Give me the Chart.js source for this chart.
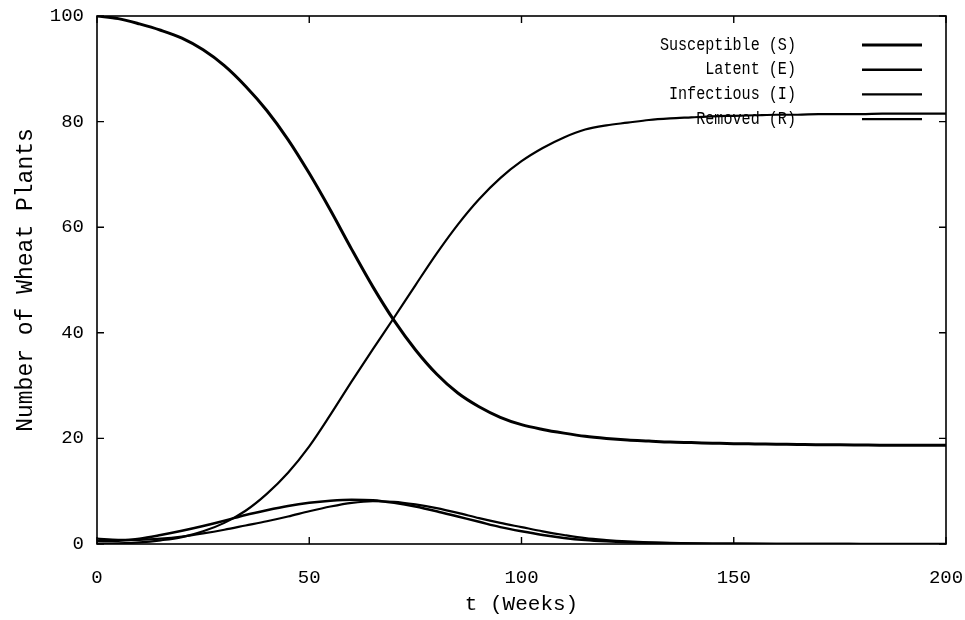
<!DOCTYPE html>
<html>
<head>
<meta charset="utf-8">
<script src="https://cdn.jsdelivr.net/npm/chart.js@4/dist/chart.umd.min.js"></script>
<style>
html,body{margin:0;padding:0;background:#fff;}
#wrap{width:965px;height:620px;}
</style>
</head>
<body>
<div id="wrap"><canvas id="c" width="965" height="620"></canvas></div>
<script>
const weeks = [0,5,10,15,20,25,30,35,40,45,50,55,60,65,70,75,80,85,90,95,100,105,110,115,120,125,130,135,140,145,150,155,160,165,170,175,180,185,190,195,200];
const susceptible = [100,99.5,98.5,97.3,95.8,93.6,90.6,86.7,82.1,76.6,70.2,63.2,55.8,48.7,42.3,36.8,32.2,28.6,26,24,22.6,21.7,21,20.4,20,19.7,19.5,19.3,19.2,19.1,19,18.95,18.9,18.85,18.8,18.8,18.75,18.7,18.7,18.7,18.7];
const latent = [0.5,0.6,1.0,1.7,2.5,3.4,4.4,5.5,6.4,7.2,7.8,8.2,8.4,8.3,7.8,7.1,6.2,5.2,4.2,3.2,2.4,1.7,1.15,0.75,0.5,0.33,0.22,0.14,0.09,0.06,0.04,0.03,0.02,0.01,0.01,0,0,0,0,0,0];
const infectious = [1.0,0.8,0.8,1.0,1.4,2.0,2.7,3.5,4.3,5.2,6.2,7.1,7.8,8.1,8.0,7.5,6.8,5.9,4.9,4.0,3.2,2.4,1.7,1.1,0.75,0.5,0.33,0.22,0.14,0.09,0.06,0.04,0.03,0.02,0.01,0.01,0,0,0,0,0];
const removed = [0,0.1,0.3,0.7,1.3,2.4,4,6.3,9.5,13.5,18.5,24.5,30.8,36.9,42.9,49,55,60.5,65.3,69.3,72.5,75,77,78.5,79.3,79.8,80.3,80.6,80.8,81,81.1,81.2,81.3,81.3,81.4,81.4,81.4,81.5,81.5,81.5,81.5];
const seriesLabels = ['Susceptible (S)','Latent (E)','Infectious (I)','Removed (R)'];
const xTicks = [0,50,100,150,200];
const yTicks = [0,20,40,60,80,100];

const FONT = "'Liberation Mono', 'DejaVu Sans Mono', monospace";
const toPts = arr => arr.map((v,i)=>({x:weeks[i], y:v}));
const widths = [3,2.5,2.2,2.2];
const seriesData = [susceptible, latent, infectious, removed];

const frameAndLegend = {
  id:'frameAndLegend',
  afterDraw(chart){
    const ctx = chart.ctx, a = chart.chartArea;
    const xs = chart.scales.x, ys = chart.scales.y;
    ctx.save();
    ctx.strokeStyle = '#000';
    ctx.lineWidth = 1.6;
    ctx.strokeRect(a.left, a.top, a.right - a.left, a.bottom - a.top);
    ctx.lineWidth = 1.4;
    const tl = 7;
    xTicks.forEach(v=>{
      const px = xs.getPixelForValue(v);
      ctx.beginPath();
      ctx.moveTo(px, a.bottom); ctx.lineTo(px, a.bottom - tl);
      ctx.moveTo(px, a.top); ctx.lineTo(px, a.top + tl);
      ctx.stroke();
    });
    yTicks.forEach(v=>{
      const py = ys.getPixelForValue(v);
      ctx.beginPath();
      ctx.moveTo(a.left, py); ctx.lineTo(a.left + tl, py);
      ctx.moveTo(a.right, py); ctx.lineTo(a.right - tl, py);
      ctx.stroke();
    });
    // legend
    const textRight = 796, lineL = 862, lineR = 922, sx = 0.84;
    chart.data.datasets.forEach((ds,i)=>{
      const y = 45 + i*24.7;
      ctx.save();
      ctx.scale(sx, 1);
      ctx.font = "18px " + FONT;
      ctx.fillStyle = '#000';
      ctx.textAlign = 'right';
      ctx.textBaseline = 'middle';
      ctx.fillText(ds.label, textRight / sx, y);
      ctx.restore();
      ctx.lineWidth = ds.borderWidth;
      ctx.beginPath(); ctx.moveTo(lineL, y); ctx.lineTo(lineR, y); ctx.stroke();
    });
    ctx.restore();
  }
};

new Chart(document.getElementById('c'), {
  type:'line',
  data:{
    datasets: seriesLabels.map((lab,i)=>({
      label: lab,
      data: toPts(seriesData[i]),
      borderColor:'#000',
      borderWidth: widths[i],
      pointRadius:0,
      fill:false,
      cubicInterpolationMode:'monotone',
      tension:0.4
    }))
  },
  options:{
    responsive:false,
    animation:false,
    layout:{padding:{top:16,right:19,left:0,bottom:0}},
    plugins:{legend:{display:false}, tooltip:{enabled:false}},
    scales:{
      x:{
        type:'linear', min:0, max:200,
        afterBuildTicks(s){ s.ticks = xTicks.map(v=>({value:v})); },
        afterFit(s){ s.height = 76; s.paddingLeft = 0; s.paddingRight = 0; },
        grid:{display:false, drawTicks:false},
        border:{display:false},
        ticks:{color:'#000', font:{family:FONT, size:19}, padding:23, maxRotation:0},
        title:{display:true, text:'t (Weeks)', color:'#000', font:{family:FONT, size:21}, padding:{top:4,bottom:3}}
      },
      y:{
        type:'linear', min:0, max:100,
        afterBuildTicks(s){ s.ticks = yTicks.map(v=>({value:v})); },
        afterFit(s){ s.width = 97; s.paddingTop = 0; s.paddingBottom = 0; },
        grid:{display:false, drawTicks:false},
        border:{display:false},
        ticks:{color:'#000', font:{family:FONT, size:19}, padding:13},
        title:{display:true, text:'Number of Wheat Plants', color:'#000', font:{family:FONT, size:23}, padding:{top:12,bottom:4}}
      }
    }
  },
  plugins:[frameAndLegend]
});
</script>
</body>
</html>
